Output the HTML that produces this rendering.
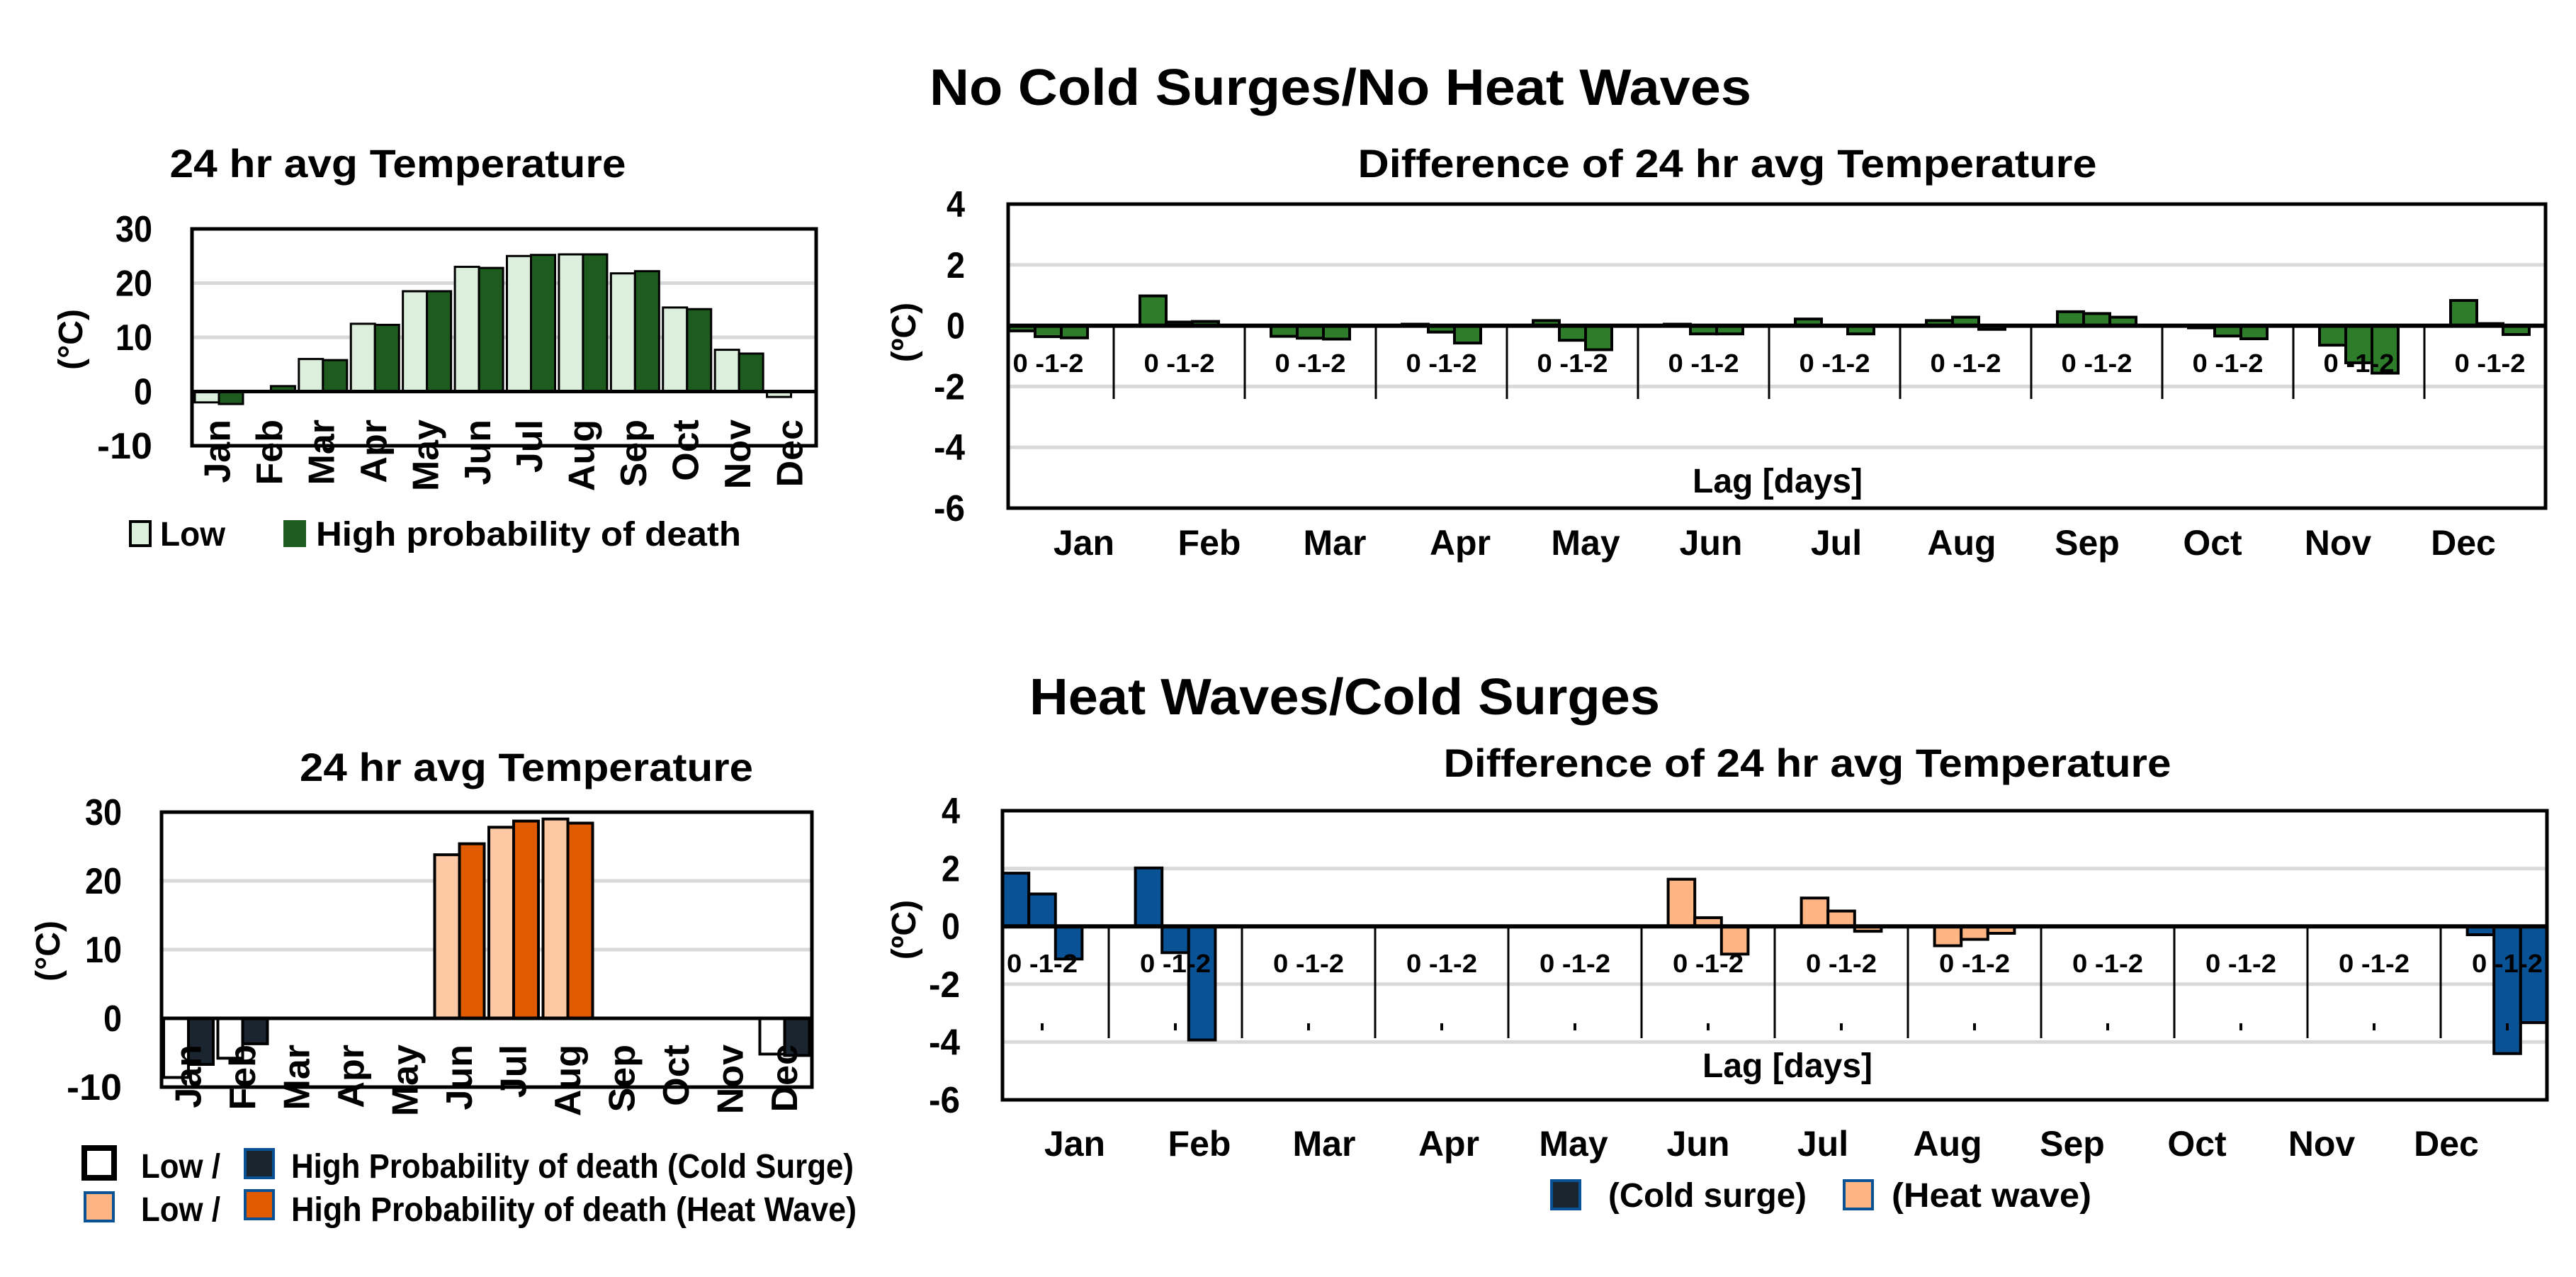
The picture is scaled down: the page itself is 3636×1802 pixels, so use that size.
<!DOCTYPE html>
<html><head><meta charset="utf-8"><style>
html,body{margin:0;padding:0;background:#fff;}
svg{display:block;font-family:"Liberation Sans",sans-serif;font-weight:bold;}
</style></head><body>
<svg id="root" width="3636" height="1802" viewBox="0 0 3636 1802" xmlns="http://www.w3.org/2000/svg">
<rect width="3636" height="1802" fill="#fff"/>
<text x="1892" y="148" font-size="72" text-anchor="middle" textLength="1160" lengthAdjust="spacingAndGlyphs">No Cold Surges/No Heat Waves</text>
<text x="1898" y="1008" font-size="72" text-anchor="middle" textLength="890" lengthAdjust="spacingAndGlyphs">Heat Waves/Cold Surges</text>
<g id="g1"></g>
<g id="g2"></g>
<g id="g3"></g>
<g id="g4"></g>
</svg>
<script>
const months = ["Jan","Feb","Mar","Apr","May","Jun","Jul","Aug","Sep","Oct","Nov","Dec"];
const tempTicks = [30,20,10,0,-10];
const diffTicks = [4,2,0,-2,-4,-6];
const normalLow = [-2,0,6,12.5,18.5,23,25,25.3,21.8,15.5,7.7,-1];
const normalHigh = [-2.3,1,5.8,12.3,18.5,22.8,25.2,25.3,22.2,15.2,7,0];
const diffNormalLag0 = [-0.17,0.98,-0.35,0.05,0.17,0.05,0.22,0.17,0.46,-0.07,-0.64,0.83];
const diffNormalLag1 = [-0.36,0.12,-0.41,-0.21,-0.48,-0.27,0,0.28,0.40,-0.34,-1.22,0.07];
const diffNormalLag2 = [-0.40,0.14,-0.44,-0.57,-0.79,-0.27,-0.27,-0.12,0.28,-0.43,-1.56,-0.29];
const extremeLow = [-8.6,-5.8,0,0,0,23.8,27.8,29.0,0,0,0,-5.2];
const extremeHigh = [-6.7,-3.7,0,0,0,25.4,28.7,28.4,0,0,0,-5.4];
const extremeType = ["cold","cold","","","","heat","heat","heat","","","","cold"];
const diffExtLag0 = [1.84,2.02,0,0,0,1.63,0.98,-0.67,0,0,0,-0.29];
const diffExtLag1 = [1.12,-0.91,0,0,0,0.30,0.53,-0.45,0,0,0,-4.40];
const diffExtLag2 = [-1.13,-3.93,0,0,0,-0.96,-0.17,-0.24,0,0,0,-3.33];

const NS="http://www.w3.org/2000/svg";
function mk(parent,tag,attrs,txt){const e=document.createElementNS(NS,tag);for(const k in attrs)e.setAttribute(k,attrs[k]);if(txt!==undefined)e.textContent=txt;parent.appendChild(e);return e;}

function tempPanel(g,opt){
  const L=opt.L,R=opt.R,T=opt.T,B=opt.B;
  const y=v=>T+(30-v)*(B-T)/40;
  const W=(R-L)/12;
  let e=mk(g,"text",{x:(L+R)/2+opt.tdx,y:opt.ty,"font-size":56,"text-anchor":"middle",textLength:opt.tw,lengthAdjust:"spacingAndGlyphs"},"24 hr avg Temperature");
  
  
  [20,10].forEach(t=>{const l=mk(g,"line",{x1:L,x2:R,y1:y(t),y2:y(t),stroke:"#d9d9d9","stroke-width":5});
    
    });
  tempTicks.forEach(t=>{const s=String(t);const tx=mk(g,"text",{x:opt.tickR,y:y(t)+18,"font-size":52,"text-anchor":"end",textLength:s.length*26,lengthAdjust:"spacingAndGlyphs"},s);
    
    });
  const yt=mk(g,"text",{x:0,y:0,"font-size":48,"text-anchor":"middle",transform:`translate(${opt.ytx},${opt.yty}) rotate(-90)`},"(°C)");
  
  
  for(let i=0;i<12;i++){
    const x0=L+i*W+opt.off, bw=opt.bw;
    const lowFill=opt.lowFill(i), highFill=opt.highFill(i);
    [[opt.low[i],lowFill,0,'bar-low-'],[opt.high[i],highFill,1,'bar-high-']].forEach(([v,f,j,nm])=>{
      if(v===0||f===null)return;
      const y1=Math.min(y(v),y(0)),h=Math.abs(y(v)-y(0));
      const r=mk(g,"rect",{x:x0+j*bw,y:y1,width:bw,height:h,fill:f,stroke:"#000","stroke-width":opt.sw});
      
      
    });
  }
  const zl=mk(g,"line",{x1:L,x2:R,y1:y(0),y2:y(0),stroke:"#000","stroke-width":5});
  
  
  const bx=mk(g,"rect",{x:L,y:T,width:R-L,height:B-T,fill:"none",stroke:"#000","stroke-width":5});
  
  
  for(let i=0;i<12;i++){
    const cx=L+(i+0.5)*W+17;
    const m=mk(g,"text",{x:0,y:0,"font-size":52,"text-anchor":"end",transform:`translate(${cx},${opt.mTop}) rotate(-90)`},months[i]);
    
    
  }
}

function diffPanel(g,opt){
  const L=opt.L,R=opt.R,T=opt.T,B=opt.B;
  const y=v=>T+(4-v)*(B-T)/10;
  const W=opt.W,X0=opt.X0;
  let e=mk(g,"text",{x:opt.tx,y:opt.ty,"font-size":56,"text-anchor":"middle",textLength:opt.tw,lengthAdjust:"spacingAndGlyphs"},"Difference of 24 hr avg Temperature");
  
  
  [2,-2,-4].forEach(t=>{const l=mk(g,"line",{x1:L,x2:R,y1:y(t),y2:y(t),stroke:"#d9d9d9","stroke-width":5});
    
    });
  diffTicks.forEach(t=>{const tx=mk(g,"text",{x:opt.tickR,y:y(t)+18,"font-size":52,"text-anchor":"end",textLength:t<0?44:26,lengthAdjust:"spacingAndGlyphs"},String(t));
    
    });
  const yt=mk(g,"text",{x:0,y:0,"font-size":48,"text-anchor":"middle",transform:`translate(1292,${opt.yty}) rotate(-90)`},"(ºC)");
  
  
  const lagLabel=mk(g,"text",{x:opt.lagX,y:opt.lagY+17,"font-size":48,"text-anchor":"middle",textLength:240,lengthAdjust:"spacingAndGlyphs"},"Lag [days]");
  
  
  for(let i=1;i<12;i++){
    const sx=X0+i*W;
    const s=mk(g,"line",{x1:sx,x2:sx,y1:y(0),y2:opt.sepB,stroke:"#000","stroke-width":3});
    
    
  }
  const lags=[opt.lag0,opt.lag1,opt.lag2];
  const bw=W/5;
  for(let i=0;i<12;i++){
    for(let j=0;j<3;j++){
      const v=lags[j][i]; if(v===0)continue;
      const y1=Math.min(y(v),y(0)),h=Math.abs(y(v)-y(0));
      const r=mk(g,"rect",{x:X0+i*W+bw*(1+j),y:y1,width:bw,height:h,fill:opt.fill(i),stroke:"#000","stroke-width":4});
      
      
    }
    const lx=X0+i*W+W/2;
    const lt=mk(g,"text",{x:lx,y:opt.lagTxtY+13,"font-size":36,"text-anchor":"middle",textLength:100,lengthAdjust:"spacingAndGlyphs"},"0 -1-2");
    
    
    if(opt.dots){
      const d=mk(g,"rect",{x:lx-2,y:opt.dots-5,width:4,height:10,fill:"#000"});
      
      
    }
    const mx=opt.mX0+i*opt.mStep;
    const m=mk(g,"text",{x:mx,y:opt.mY+18,"font-size":50,"text-anchor":"middle"},months[i]);
    
    
  }
  const zl=mk(g,"line",{x1:L,x2:R,y1:y(0),y2:y(0),stroke:"#000","stroke-width":6});
  
  
  const bx=mk(g,"rect",{x:L,y:T,width:R-L,height:B-T,fill:"none",stroke:"#000","stroke-width":5});
  
  
}

const g1=document.getElementById('g1'),g2=document.getElementById('g2'),g3=document.getElementById('g3'),g4=document.getElementById('g4');
tempPanel(g1,{L:271,R:1152,T:323,B:629,tdx:-150,ty:250,tw:644,tickR:215,ytx:116,yty:479,off:4,bw:34,sw:3,mTop:592,
  low:normalLow,high:normalHigh,lowFill:()=>"#dcefdc",highFill:()=>"#1e5b1e"});
tempPanel(g3,{L:228,R:1146,T:1146,B:1534,tdx:56,ty:1102,tw:640,tickR:172,ytx:84,yty:1342,off:3,bw:35,sw:4,mTop:1474,
  low:extremeLow,high:extremeHigh,
  lowFill:i=>extremeType[i]==="cold"?"#ffffff":"#fdc9a5",highFill:i=>extremeType[i]==="cold"?"#1a2530":"#e05a00"});
diffPanel(g2,{L:1423,R:3593,T:288,B:717,X0:1387,W:185,tx:2438,ty:250,tw:1043,tickR:1362,yty:469,lagX:2509,lagY:678,sepB:563,lagTxtY:512,
  lag0:diffNormalLag0,lag1:diffNormalLag1,lag2:diffNormalLag2,fill:()=>"#2e7d2b",mX0:1530,mStep:177,mY:765});
diffPanel(g4,{L:1415,R:3595,T:1144,B:1552,X0:1377,W:188,tx:2551,ty:1096,tw:1027,tickR:1355,yty:1312,lagX:2523,lagY:1503,sepB:1465,lagTxtY:1359,dots:1449,
  lag0:diffExtLag0,lag1:diffExtLag1,lag2:diffExtLag2,fill:i=>extremeType[i]==="cold"?"#0a5296":"#fdb683",mX0:1517,mStep:176,mY:1613});

const svg=document.getElementById('root');
function legendBox(x,y,w,h,fill,stroke,sw,name){const r=mk(svg,"rect",{x:x,y:y,width:w,height:h,fill:fill,stroke:stroke,"stroke-width":sw});
  
  }
function legendText(x,y,t,tl,name){const e=mk(svg,"text",{x:x,y:y,"font-size":48,textLength:tl,lengthAdjust:"spacingAndGlyphs"},t);
  
  }
legendBox(184,736,28,34,"#dcefdc","#000",4,"legend-swatch-low");
legendText(226,770,"Low",92,"legend-label-low");
legendBox(400,734,32,38,"#1e5b1e","none",0,"legend-swatch-high");
legendText(446,770,"High probability of death",600,"legend-label-high");
legendBox(119,1620,42,42,"#fff","#000",8,"legend-swatch-cold-low");
legendText(199,1662,"Low /",112,"legend-label-cold-low");
legendBox(346,1622,40,40,"#1a2530","#0a5296",4,"legend-swatch-cold-high");
legendText(411,1662,"High Probability of death (Cold Surge)",794,"legend-label-cold-high");
legendBox(120,1683,40,40,"#fdb683","#0a5296",4,"legend-swatch-heat-low");
legendText(199,1723,"Low /",112,"legend-label-heat-low");
legendBox(346,1680,40,40,"#e05a00","#0a5296",4,"legend-swatch-heat-high");
legendText(411,1723,"High Probability of death (Heat Wave)",798,"legend-label-heat-high");
legendBox(2190,1666,40,40,"#1a2530","#0a5296",4,"legend-swatch-cold-surge");
legendText(2270,1703,"(Cold surge)",280,"legend-label-cold-surge");
legendBox(2603,1666,40,40,"#fdb683","#0a5296",4,"legend-swatch-heat-wave");
legendText(2670,1703,"(Heat wave)",282,"legend-label-heat-wave");
</script>
</body></html>
